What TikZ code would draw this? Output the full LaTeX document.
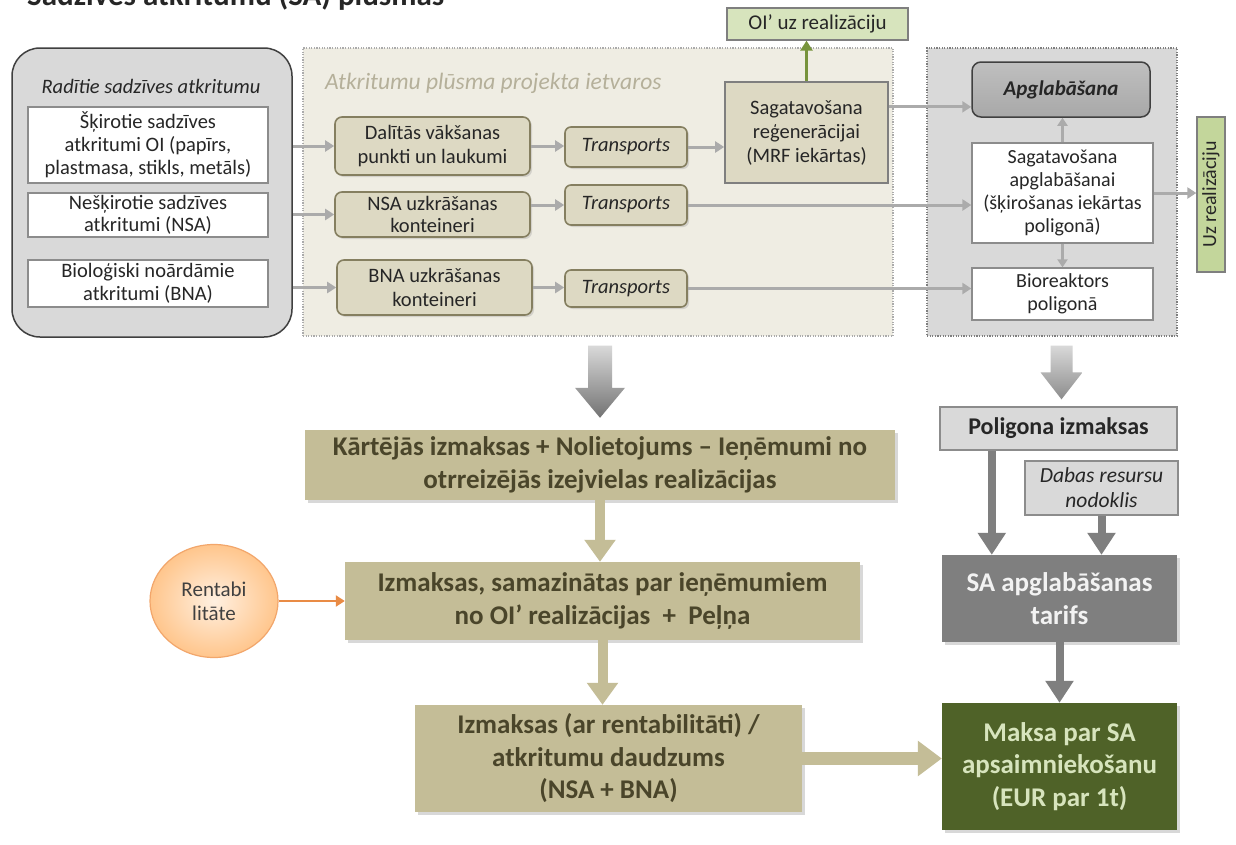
\documentclass[tikz,border=0pt]{standalone}
\usepackage{fontspec}
\setmainfont{Carlito}
\usetikzlibrary{arrows.meta,calc,shadows,shapes.geometric}
\definecolor{txt}{HTML}{262626}
\definecolor{lgray}{HTML}{D9D9D9}
\definecolor{dgray}{HTML}{404040}
\definecolor{mgray}{HTML}{8C8C8C}
\definecolor{beige}{HTML}{DDD9C3}
\definecolor{beigebg}{HTML}{EFEDE3}
\definecolor{olivebd}{HTML}{857F60}
\definecolor{labelc}{HTML}{B5B09A}
\definecolor{tan}{HTML}{C4BD97}
\definecolor{tantxt}{HTML}{4A452A}
\definecolor{lgreen}{HTML}{D7E4BD}
\definecolor{mgreen}{HTML}{C3D69B}
\definecolor{garrow}{HTML}{77933C}
\definecolor{cgray}{HTML}{ABABAB}
\definecolor{darkg}{HTML}{7F7F7F}
\definecolor{apgl}{HTML}{A8A8A8}
\definecolor{dgreen}{HTML}{4F6228}
\definecolor{orng}{HTML}{E98B45}
\definecolor{orngbd}{HTML}{F2A66B}
\begin{document}
\begin{tikzpicture}[x=1pt,y=-1pt,
  f20/.style={font=\fontsize{20.5}{24}\selectfont},
  box/.style={inner sep=0pt, align=center, text=txt},
  leftbig/.style={box, fill=lgray, draw=dgray, line width=1.5pt, rounded corners=28pt},
  whitebox/.style={box, f20, fill=white, draw=mgray, line width=1.3pt},
  beigebox/.style={box, f20, fill=beige, draw=olivebd, line width=1.6pt, rounded corners=7pt,
     drop shadow={shadow xshift=2pt, shadow yshift=-2pt, opacity=0.25}},
  transbox/.style={beigebox, rounded corners=6pt, font=\fontsize{20.5}{24}\selectfont\itshape, minimum width=122},
  dotbox/.style={dash pattern=on 1.2pt off 1.4pt, line width=1.4pt},
  conn/.style={draw=cgray, line width=3pt, -{Triangle[length=9pt,width=11pt]}},
  connsmall/.style={draw=cgray, line width=2.5pt, -{Triangle[length=8pt,width=10pt]}},
  greenarrow/.style={draw=garrow, line width=3pt, -{Triangle[length=10pt,width=12pt]}},
  tanarrow/.style={draw=tan, line width=10pt, -{Triangle[length=22pt,width=30pt]}},
  tanarrowbig/.style={draw=tan, line width=13pt, -{Triangle[length=24pt,width=34pt]}},
  dgarrow/.style={draw=darkg, line width=8pt, -{Triangle[length=22pt,width=27pt]}},
  orangearrow/.style={draw=orng, line width=2.5pt, -{Triangle[length=9pt,width=11pt]}},
  bigbox/.style={box, inner sep=0pt, font=\fontsize{27}{32.5}\selectfont\bfseries,
     drop shadow={shadow xshift=3pt, shadow yshift=-3pt, opacity=0.3}},
]
\useasboundingbox (0,0) rectangle (1236,844);
\clip (0,0) rectangle (1236,844);
\fill[white] (0,0) rectangle (1236,844);

% title (cut off at the top)
\node[anchor=base west, inner sep=0pt, text=txt, font=\fontsize{31}{36}\selectfont\bfseries] (title) at (27,5) {Sadzīves atkritumu (SA) plūsmas};

% left panel
\node[leftbig, minimum width=280, minimum height=289] (L) at (152,192.5) {};
\node[box, font=\fontsize{20.5}{24}\selectfont\itshape] (Ltitle) at (151,86) {Radītie sadzīves atkritumu};
\node[whitebox, minimum width=240, minimum height=76, font=\fontsize{20.5}{23}\selectfont] (W1) at (148,145) {Šķirotie sadzīves\\atkritumi OI (papīrs,\\plastmasa, stikls, metāls)};
\node[whitebox, minimum width=240, minimum height=44, font=\fontsize{20.5}{22}\selectfont] (W2) at (148,215) {Nešķirotie sadzīves\\atkritumi (NSA)};
\node[whitebox, minimum width=240, minimum height=47, font=\fontsize{20.5}{23}\selectfont] (W3) at (148,283.5) {Bioloģiski noārdāmie\\atkritumi (BNA)};

% middle panel
\node[dotbox, draw=cgray, fill=beigebg, minimum width=590, minimum height=288, inner sep=0pt] (M) at (598,192) {};
\node[anchor=west, inner sep=0pt, text=labelc, font=\fontsize{23.5}{28}\selectfont\itshape] (Mlabel) at (325,83) {Atkritumu plūsma projekta ietvaros};
\node[beigebox, minimum width=195, minimum height=58] (A) at (432.5,146) {Dalītās vākšanas\\punkti un laukumi};
\node[beigebox, minimum width=195, minimum height=45, font=\fontsize{20.5}{22}\selectfont] (B) at (432.5,214.5) {NSA uzkrāšanas\\konteineri};
\node[beigebox, minimum width=195, minimum height=55] (C) at (434.5,287.5) {BNA uzkrāšanas\\konteineri};
\node[transbox, minimum height=40] (T1) at (626,147) {Transports};
\node[transbox, minimum height=40] (T2) at (626,205) {Transports};
\node[transbox, minimum height=37] (T3) at (626,288.5) {Transports};
\node[box, f20, fill=beige, draw=darkg, line width=1.6pt, minimum width=163, minimum height=101] (MRF) at (806.5,132.5) {Sagatavošana\\reģenerācijai\\(MRF iekārtas)};
\node[box, font=\fontsize{21}{24}\selectfont, fill=lgreen, draw=darkg, line width=1.3pt, minimum width=181, minimum height=32] (OI) at (817.5,24) {OI’ uz realizāciju};

% right panel
\node[dotbox, draw=darkg, fill=lgray, minimum width=250, minimum height=288, inner sep=0pt] (R) at (1052,192) {};
\node[box, font=\fontsize{21}{25}\selectfont\bfseries\itshape, top color=black!25, bottom color=apgl, draw=dgray, line width=1.5pt, rounded corners=9pt, minimum width=178, minimum height=55] (Apgl) at (1061,89.5) {Apglabāšana};
\node[whitebox, minimum width=181, minimum height=100, font=\fontsize{20}{23}\selectfont] (SagA) at (1062.5,193) {Sagatavošana\\apglabāšanai\\(šķirošanas iekārtas\\poligonā)};
\node[whitebox, minimum width=181, minimum height=52, font=\fontsize{20}{23}\selectfont] (Bio) at (1062.5,294) {Bioreaktors\\poligonā};
\node[box, fill=mgreen, draw=darkg, line width=1.3pt, minimum width=28, minimum height=155] (Uz) at (1211,194.5) {};
\node[box, rotate=90, font=\fontsize{20}{22}\selectfont] (Uztext) at (Uz.center) {Uz realizāciju};

% upper connectors
\draw[conn] (A.west -| L.east) -- (A.west);
\draw[conn] (B.west -| L.east) -- (B.west);
\draw[conn] (C.west -| L.east) -- (C.west);
\draw[conn] (A.east) -- (A.east -| T1.west);
\draw[conn] (T2.west -| B.east) -- (T2.west);
\draw[conn] (C.east) -- (C.east -| T3.west);
\draw[conn] (T1.east) -- (T1.east -| MRF.west);
\draw[conn] (T2.east) -- (T2.east -| SagA.west);
\draw[conn] (T3.east) -- (T3.east -| Bio.west);
\coordinate (mrfo) at ($(MRF.north east)!0.25!(MRF.south east)$);
\draw[conn] (mrfo) -- (mrfo -| Apgl.west);
\draw[greenarrow] (MRF.north) -- (MRF.north |- OI.south);
\draw[connsmall] (SagA.north) -- (SagA.north |- Apgl.south);
\draw[connsmall] (SagA.south) -- (SagA.south |- Bio.north);
\draw[conn] (SagA.east) -- (SagA.east -| Uz.west);

% lower boxes
\node[bigbox, fill=tan, text=tantxt, minimum width=590, minimum height=70] (K) at (600,465) {Kārtējās izmaksas + Nolietojums – Ieņēmumi no\\otrreizējās izejvielas realizācijas};
\node[bigbox, fill=tan, text=tantxt, minimum width=515, minimum height=78] (I) at (602.5,601) {Izmaksas, samazinātas par ieņēmumiem\\no OI’ realizācijas \ + \ Peļņa};
\node[bigbox, fill=tan, text=tantxt, minimum width=387, minimum height=107] (Rb) at (608.5,758.5) {Izmaksas (ar rentabilitāti) /\\atkritumu daudzums\\(NSA + BNA)};
\node[ellipse, shade, inner color=orange!12, outer color=orange!45, draw=orngbd, line width=1.2pt, minimum width=128, minimum height=113, inner sep=0pt, align=center, text=dgray, font=\fontsize{21}{24}\selectfont] (Ell) at (214,601) {Rentabi\\litāte};

\node[box, fill=lgray, draw=mgray, line width=1.3pt, font=\fontsize{24}{28}\selectfont\bfseries, minimum width=237, minimum height=43] (P) at (1058.5,428.5) {Poligona izmaksas};
\node[box, fill=lgray, draw=mgray, line width=1.3pt, font=\fontsize{21.5}{25}\selectfont\itshape, minimum width=153, minimum height=54] (D) at (1101.5,488) {Dabas resursu\\nodoklis};
\node[bigbox, fill=darkg, text=white!95!black, minimum width=235, minimum height=87] (Tar) at (1059.5,598.5) {SA apglabāšanas\\tarifs};
\node[bigbox, fill=dgreen, text=lgreen, minimum width=235, minimum height=127] (Mk) at (1059.5,766.5) {Maksa par SA\\apsaimniekošanu\\(EUR par 1t)};

% big shaded arrows
\coordinate (ba2) at ($(K.north)+(0,-12)$);
\coordinate (ba1) at ($(K.north |- M.south)+(0,9)$);
\shade[top color=black!15, bottom color=black!55] ($(ba1)+(-12,0)$) -- ($(ba1)+(12,0)$) -- ($(ba2)+(12,-30)$) -- ($(ba2)+(25,-30)$) -- (ba2) -- ($(ba2)+(-25,-30)$) -- ($(ba2)+(-12,-30)$) -- cycle;
\coordinate (ra2) at ($(P.north)+(3,-7)$);
\coordinate (ra1) at ($(ra2 |- R.south)+(0,9)$);
\shade[top color=black!15, bottom color=black!45] ($(ra1)+(-11,0)$) -- ($(ra1)+(11,0)$) -- ($(ra2)+(11,-27)$) -- ($(ra2)+(21,-27)$) -- (ra2) -- ($(ra2)+(-21,-27)$) -- ($(ra2)+(-11,-27)$) -- cycle;

% lower connectors
\draw[tanarrow] (K.south) -- (K.south |- I.north);
\draw[tanarrow] (I.south) -- (I.south |- Rb.north);
\draw[tanarrowbig] (Rb.east) -- (Rb.east -| Mk.west);
\draw[orangearrow] (Ell.east) -- (Ell.east -| I.west);
\coordinate (p1) at ($(P.south west)!0.22!(P.south east)$);
\draw[dgarrow] (p1) -- (p1 |- Tar.north);
\draw[dgarrow] (D.south) -- (D.south |- Tar.north);
\draw[dgarrow] (Tar.south) -- (Mk.north);
\end{tikzpicture}
\end{document}
